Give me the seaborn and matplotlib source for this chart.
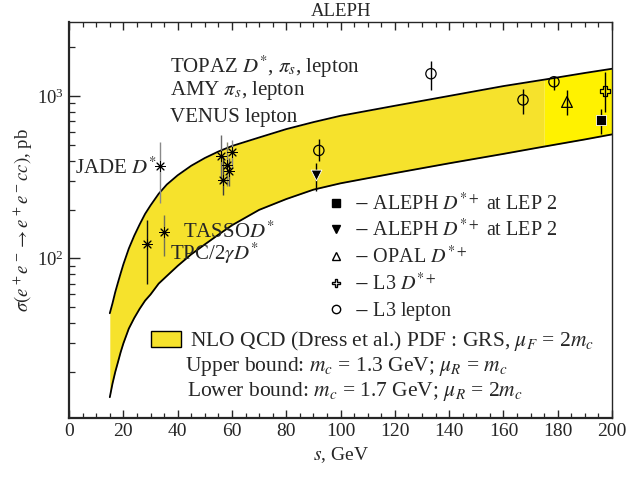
import matplotlib
matplotlib.use("Agg")
import matplotlib.pyplot as plt
import numpy as np
import pandas as pd
import seaborn as sns
from matplotlib.lines import Line2D
from matplotlib.patches import Patch
from matplotlib.ticker import MultipleLocator, LogLocator, NullFormatter

# NLO QCD band
band_s = [15, 16, 17, 18, 19, 20, 22, 24, 26, 28, 30, 33, 36, 40, 45, 50, 55, 60,
          70, 80, 90, 100, 120, 140, 160, 175, 190, 200]
band_hi = [46, 53, 62, 71, 81, 92, 115, 138, 162, 188, 212, 250, 285, 325, 372, 415, 455, 492,
           555, 625, 690, 755, 870, 1000, 1150, 1260, 1385, 1470]
band_lo = [14, 17, 20, 23, 26.5, 30, 37, 43, 49, 55, 60, 70, 78, 90, 106, 122, 140, 160,
           199, 232, 265, 290, 335, 385, 440, 488, 540, 580]
lep2_start = 175

# low energy measurements (asterisks): JADE, TPC/2gamma, TASSO, TOPAZ/AMY/VENUS
star_s = [33.5, 28.8, 35.0, 56.0, 56.7, 58.2, 58.9, 60.0]
star_sig = [373, 122, 145, 430, 305, 378, 347, 455]
star_lo = [220, 70, 103, 292, 246, 280, 280, 362]
star_hi = [518, 172, 185, 573, 430, 518, 417, 533]

# LEP measurements
aleph_sq_s, aleph_sq_sig, aleph_sq_lo, aleph_sq_hi = [196.0], [710], [581], [829]
aleph_tri_s, aleph_tri_sig, aleph_tri_lo, aleph_tri_hi = [91.0], [328], [261], [389]
opal_s, opal_sig, opal_lo, opal_hi = [183.4], [918], [762], [1090]
l3d_s, l3d_sig, l3d_lo, l3d_hi = [197.4], [1074], [795], [1410]
l3l_s = [92.0, 133.3, 167.2, 178.6]
l3l_sig = [462, 1370, 945, 1222]
l3l_lo = [400, 1090, 773, 1090]
l3l_hi = [541, 1650, 1105, 1313]

legend_labels = [r"$-$ ALEPH $D^{*+}$ at LEP 2", r"$-$ ALEPH $D^{*+}$ at LEP 2",
                 r"$-$ OPAL $D^{*+}$", r"$-$ L3 $D^{*+}$", r"$-$ L3 lepton"]

sns.set_style("ticks")
plt.rcParams["font.family"] = ["Liberation Serif", "DejaVu Serif"]
plt.rcParams["mathtext.fontset"] = "stix"
plt.rcParams["font.size"] = 13

fig = plt.figure(figsize=(6.28, 4.79), dpi=100)
ax = fig.add_axes([0.110, 0.127, 0.8646, 0.827])

band = pd.DataFrame({"s": band_s, "hi": band_hi, "lo": band_lo})
part1 = band[band.s <= lep2_start]
part2 = band[band.s >= lep2_start]
ax.fill_between(part1.s, part1.lo, part1.hi, color="#f6e22c", lw=0, zorder=1)
ax.fill_between(part2.s, part2.lo, part2.hi, color="#fff200", lw=0, zorder=1)
sns.lineplot(data=band, x="s", y="hi", color="black", lw=1.3, ax=ax, zorder=2)
sns.lineplot(data=band, x="s", y="lo", color="black", lw=1.3, ax=ax, zorder=2)


def bars(s, sig, lo, hi, color="black"):
    sig = np.array(sig)
    err = [sig - np.array(lo), np.array(hi) - sig]
    ax.errorbar(s, sig, yerr=err, fmt="none", ecolor=color, elinewidth=1.0, capsize=0, zorder=3)


star_colors = ["#8a8a8a", "#111111", "#707058", "#6a6a6a", "#3c3c3c", "#86866c", "#5a5a5a", "#8a8a8a"]
for i in range(len(star_s)):
    bars([star_s[i]], [star_sig[i]], [star_lo[i]], [star_hi[i]], star_colors[i])
sns.scatterplot(x=star_s, y=star_sig, marker=(8, 2, 0), s=50, color="black",
                linewidth=0.7, ax=ax, zorder=4)

bars(aleph_sq_s, aleph_sq_sig, aleph_sq_lo, aleph_sq_hi)
bars(aleph_tri_s, aleph_tri_sig, aleph_tri_lo, aleph_tri_hi)
bars(opal_s, opal_sig, opal_lo, opal_hi)
bars(l3d_s, l3d_sig, l3d_lo, l3d_hi)
bars(l3l_s, l3l_sig, l3l_lo, l3l_hi)

sns.scatterplot(x=aleph_sq_s, y=aleph_sq_sig, marker="s", s=55, color="black", ax=ax, zorder=5)
sns.scatterplot(x=aleph_tri_s, y=aleph_tri_sig, marker="v", s=60, color="black", ax=ax, zorder=5)
sns.scatterplot(x=opal_s, y=opal_sig, marker="^", s=60, facecolor="none", edgecolor="black",
                linewidth=0.9, ax=ax, zorder=5)
sns.scatterplot(x=l3d_s, y=l3d_sig, marker="P", s=55, facecolor="none", edgecolor="black",
                linewidth=0.9, ax=ax, zorder=5)
sns.scatterplot(x=l3l_s, y=l3l_sig, marker="o", s=55, facecolor="none", edgecolor="black",
                linewidth=0.9, ax=ax, zorder=5)

ax.set_yscale("log")
ax.set_xlim(0, 200)
ax.set_ylim(10.4, 2850)
ax.xaxis.set_major_locator(MultipleLocator(20))
ax.xaxis.set_minor_locator(MultipleLocator(5))
ax.yaxis.set_major_locator(LogLocator(base=10))
ax.yaxis.set_minor_locator(LogLocator(base=10, subs=np.arange(2, 10)))
ax.yaxis.set_minor_formatter(NullFormatter())
ax.tick_params(axis="x", which="both", direction="in", top=True, bottom=True, labelsize=14)
ax.tick_params(axis="x", which="major", length=6, width=1.0)
ax.tick_params(axis="x", which="minor", length=3.5, width=0.9)
ax.tick_params(axis="y", which="both", direction="in", left=True, right=False, labelsize=13.5)
ax.tick_params(axis="y", which="major", length=8, width=1.0)
ax.tick_params(axis="y", which="minor", length=4, width=0.9)
for side in ["left", "bottom"]:
    ax.spines[side].set_linewidth(1.6)
for side in ["top", "right"]:
    ax.spines[side].set_linewidth(1.0)

ax.set_xlabel(r"$s$, GeV", fontsize=14, labelpad=4)
ax.set_ylabel(r"$\sigma(e^+e^-\rightarrow e^+e^-cc)$, pb", fontsize=13.5, labelpad=2)
ax.set_title("ALEPH", fontsize=13.5, pad=4)

fs = 15
ax.text(0.186, 0.886, r"TOPAZ $D^{*}$, $\pi_s$, lepton", transform=ax.transAxes, va="center", fontsize=fs)
ax.text(0.186, 0.826, r"AMY $\pi_s$, lepton", transform=ax.transAxes, va="center", fontsize=fs)
ax.text(0.186, 0.759, "VENUS lepton", transform=ax.transAxes, va="center", fontsize=fs)
ax.text(0.010, 0.631, r"JADE $D^{*}$", transform=ax.transAxes, va="center", fontsize=fs)
ax.text(0.210, 0.470, r"TASSO$D^{*}$", transform=ax.transAxes, va="center", fontsize=fs)
ax.text(0.186, 0.415, r"TPC/2$\gamma D^{*}$", transform=ax.transAxes, va="center", fontsize=fs)

handles = [
    Line2D([], [], ls="none", marker="s", ms=6, color="black"),
    Line2D([], [], ls="none", marker="v", ms=6, color="black"),
    Line2D([], [], ls="none", marker="^", ms=6, mfc="none", mec="black"),
    Line2D([], [], ls="none", marker="P", ms=6, mfc="none", mec="black"),
    Line2D([], [], ls="none", marker="o", ms=6, mfc="none", mec="black"),
]
leg1 = ax.legend(handles, legend_labels, loc="upper left", bbox_to_anchor=(0.459, 0.59),
                 frameon=False, fontsize=14.5, handlelength=1.0, handletextpad=0.35,
                 labelspacing=0.24, borderaxespad=0)
ax.add_artist(leg1)

fs2 = 15.5
ax.legend([Patch(facecolor="#f6e22c", edgecolor="black", lw=1.0)],
          [r"NLO QCD (Dress et al.) PDF : GRS, $\mu_F$ = 2$m_c$"],
          loc="center left", bbox_to_anchor=(0.135, 0.194), frameon=False, fontsize=fs2,
          handlelength=1.4, handleheight=0.8, handletextpad=0.4, borderaxespad=0)
ax.text(0.214, 0.131, r"Upper bound: $m_c$ = 1.3 GeV; $\mu_R$ = $m_c$", transform=ax.transAxes,
        va="center", fontsize=fs2)
ax.text(0.217, 0.068, r"Lower bound: $m_c$ = 1.7 GeV; $\mu_R$ = 2$m_c$", transform=ax.transAxes,
        va="center", fontsize=fs2)

fig.savefig("out.png", dpi=100)
